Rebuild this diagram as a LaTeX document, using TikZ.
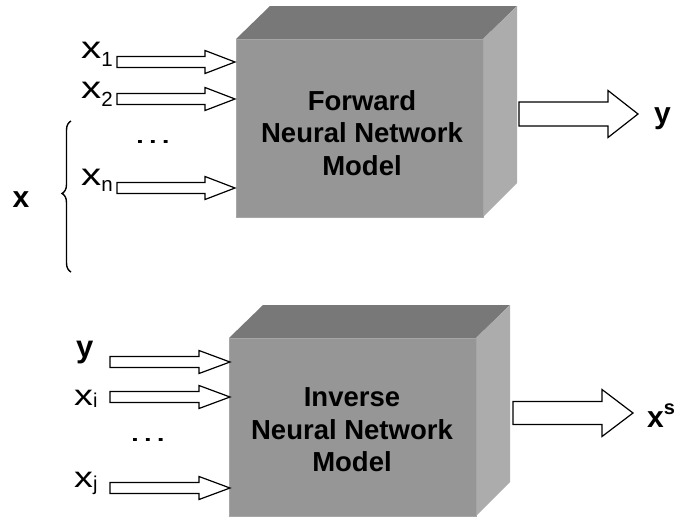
\documentclass[tikz,border=0pt]{standalone}
\usepackage{fontspec}
\setmainfont{Liberation Sans}
\usetikzlibrary{decorations.pathreplacing}
\definecolor{boxtop}{RGB}{120,120,120}
\definecolor{boxfront}{RGB}{150,150,150}
\definecolor{boxside}{RGB}{172,172,172}
\newcommand\blockarr[6]{% tail x, tip x, y, shaft half, head half, head length
  \draw[hollowarr] (#1,#3-#4) -- (#2-#6,#3-#4) -- (#2-#6,#3-#5) -- (#2,#3)
    -- (#2-#6,#3+#5) -- (#2-#6,#3+#4) -- (#1,#3+#4) -- cycle;}
\newcommand\cube[5]{% name, left x, top y, right x, bottom y
  \fill[boxtop] (#2,#3) -- (#2+34,#3-33) -- (#4+34,#3-33) -- (#4,#3) -- cycle;
  \fill[boxside] (#4,#3) -- (#4+34,#3-33) -- (#4+34,#5-34) -- (#4,#5) -- cycle;
  \node[frontface, minimum width=#4-#2, minimum height=#5-#3, anchor=north west] (#1) at (#2,#3) {};
}
\newcommand\xlab[3]{\scalebox{1.3}[1]{x}\raisebox{#1}{\fontsize{#2}{#2}\selectfont #3}}
\newcommand\bigdots{\scalebox{1.45}[1]{\dots}}
\begin{document}
\begin{tikzpicture}[x=1pt,y=-1pt,
  hollowarr/.style={draw=black, fill=white, line width=1.2pt, line join=miter},
  frontface/.style={fill=boxfront, draw=boxfront!85!white, line width=0.8pt, inner sep=0pt},
  boxtext/.style={font=\fontsize{27.5}{32.5}\selectfont\bfseries, align=center, text=black},
  inlab/.style={font=\fontsize{31}{32}\selectfont, anchor=base west, inner sep=0pt},
  outlab/.style={font=\fontsize{30}{32}\selectfont\bfseries, anchor=base west, inner sep=0pt},
  dotlab/.style={font=\fontsize{28}{30}\selectfont, inner sep=0pt}]
\useasboundingbox (0,0) rectangle (680,520);
% top cube
\cube{fwd}{236}{39}{483}{217}
\node[boxtext] (fwdtxt) at (362,133) {Forward\\Neural Network\\Model};
% bottom cube
\cube{inv}{229}{338}{476}{516}
\node[boxtext] (invtxt) at (352,430) {Inverse\\Neural Network\\Model};
% top inputs
\node[inlab] (x1) at (81,58) {\xlab{-8pt}{20.5}{1}};
\node[inlab] (x2) at (81,98) {\xlab{-8pt}{20.5}{2}};
\node[inlab] (xn) at (81,185) {\xlab{-6pt}{20.5}{n}};
\node[dotlab] (dots1) at (153,142) {\bigdots};
\blockarr{117}{235}{62}{5.5}{11.5}{30}
\blockarr{117}{235}{99}{5.5}{11.5}{30}
\blockarr{117}{235}{188}{5.5}{11.5}{30}
\blockarr{519}{638}{114}{12}{23.5}{30}
\node[outlab] (yout) at (654,123) {y};
% brace and x
\draw[line width=1.4pt, decorate, decoration={brace, amplitude=9pt, aspect=0.52}] (71,272) -- (71,121);
\node[font=\fontsize{30}{32}\selectfont\bfseries] (xvec) at (21,200) {x};
% bottom inputs
\node[outlab, font=\fontsize{31}{34}\selectfont\bfseries] (yin) at (76,357) {y};
\node[inlab, font=\fontsize{29}{32}\selectfont] (xi) at (74,405) {\xlab{-2pt}{20}{i}};
\node[inlab, font=\fontsize{29}{32}\selectfont] (xj) at (74,487) {\xlab{-3pt}{20}{j}};
\node[dotlab] (dots2) at (148,440) {\bigdots};
\blockarr{110}{230}{362}{5.5}{11.5}{31}
\blockarr{110}{230}{397}{5.5}{11.5}{31}
\blockarr{110}{230}{488}{5.5}{11.5}{31}
\blockarr{513}{633}{413}{11.5}{23.5}{31}
\node[outlab] (xs) at (647,427) {x\raisebox{13pt}{\fontsize{20}{20}\selectfont s}};
\end{tikzpicture}
\end{document}
